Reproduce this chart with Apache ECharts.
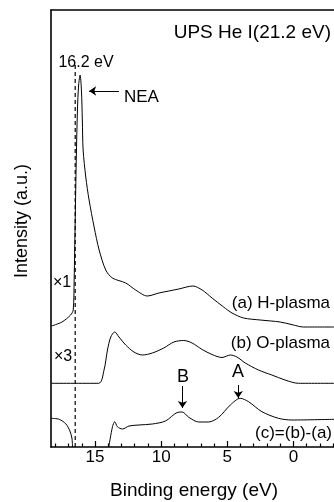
<!DOCTYPE html>
<html>
<head>
<meta charset="utf-8">
<script src="https://cdn.jsdelivr.net/npm/echarts@6/dist/echarts.min.js"></script>
<style>html,body{margin:0;padding:0;background:#fff;}#c{width:334px;height:502px;}</style>
</head>
<body>
<div id="c"></div>
<script>
// Binding energy (eV) and intensity (a.u.)
const energyA = [18.3, 17.5, 16.85, 16.65, 16.58, 16.5, 16.42, 16.33, 16.24, 16.13, 16.03, 15.96, 15.9, 15.7, 15.45, 15.07, 14.69, 14.19, 13.69, 12.68, 11.93, 11.05, 10.17, 9.42, 8.67, 7.6, 6.9, 6.15, 5.28, 4.64, 3.77, 2.51, 1.0, 0, -0.75, -3.1];
const intensityA = [121, 125, 132, 137, 167, 227, 287, 337, 362, 372, 357, 327, 297, 270, 247, 220, 197, 177, 169, 164, 157, 151, 154, 156, 158, 161, 157, 149, 140, 134, 129, 127, 125, 122, 120, 120];

const energyB = [18.3, 14.73, 14.32, 14.06, 13.81, 13.51, 13.19, 12.68, 12.06, 11.42, 10.67, 9.8, 9.04, 8.29, 7.66, 6.9, 6.15, 5.4, 4.77, 4.27, 3.64, 2.64, 1.63, 0.63, -0.38, -3.1];
const intensityB = [63.7, 63.7, 77, 97, 110, 115, 110, 102, 95, 92, 94, 99, 105, 106.5, 104, 97.5, 92.5, 89.5, 92, 90, 84, 77, 72, 67, 63.7, 63.7];

const energyC1 = [18.3, 17.71, 17.2, 16.9, 16.75, 16.7];
const intensityC1 = [28.7, 27.7, 23, 16, 9, 0];

const energyC2 = [13.96, 13.68, 13.51, 13.31, 12.93, 12.43, 11.68, 10.67, 9.67, 8.79, 8.41, 7.91, 7.16, 6.41, 5.65, 4.77, 4.02, 3.39, 2.38, 1.13, 0.12, -3.1];
const intensityC2 = [0, 20.3, 25.3, 20.3, 18, 21, 22, 23, 26, 34.5, 35, 29.7, 25, 25, 29.7, 42, 48.7, 45.3, 35.3, 28.7, 27, 27.7];

const majorTicks = [15, 10, 5, 0];
const minorTicks = [18, 17, 16, 14, 13, 12, 11, 9, 8, 7, 6, 4, 3, 2, 1, -1, -2, -3];
const edgeEnergy = 16.5;      // dashed line position as drawn (labelled 16.2 eV)
const edgeTop = 382;
const peakB = 8.39, peakA = 4.17;

const pairs = (e, v) => e.map((x, k) => [x, v[k]]);
const FONT = 'Liberation Sans, Arial, sans-serif';
const xMin = -3.07, xMax = 18.33;

const chart = echarts.init(document.getElementById('c'));
const baseX = {type: 'value', min: xMin, max: xMax, inverse: true, gridIndex: 0, splitLine: {show: false}};
const lineSer = (data) => ({type: 'line', data, symbol: 'none', smooth: 0.3, lineStyle: {color: '#000', width: 1}, silent: true});

chart.setOption({
  animation: false,
  grid: {left: 51, right: 0, top: 10, bottom: 55, containLabel: false},
  xAxis: [
    Object.assign({}, baseX, {
      position: 'bottom',
      axisLine: {show: true, onZero: false, lineStyle: {color: '#000', width: 1.6}},
      axisTick: {show: true, inside: true, length: 6, customValues: majorTicks, lineStyle: {color: '#000', width: 1.2}},
      axisLabel: {show: true, customValues: majorTicks, fontSize: 17, fontFamily: FONT, color: '#000', margin: 2}
    }),
    Object.assign({}, baseX, {
      position: 'bottom',
      axisLine: {show: false, onZero: false},
      axisTick: {show: true, inside: true, length: 3.5, customValues: minorTicks, lineStyle: {color: '#000', width: 1.2}},
      axisLabel: {show: false}
    }),
    Object.assign({}, baseX, {
      position: 'top',
      axisLine: {show: true, onZero: false, lineStyle: {color: '#000', width: 1.6}},
      axisTick: {show: false},
      axisLabel: {show: false}
    })
  ],
  yAxis: {
    type: 'value', min: 0, max: 437, position: 'left',
    axisLine: {show: true, onZero: false, lineStyle: {color: '#000', width: 1.6}},
    axisTick: {show: false}, axisLabel: {show: false}, splitLine: {show: false}
  },
  series: [
    lineSer(pairs(energyA, intensityA)),
    lineSer(pairs(energyB, intensityB)),
    lineSer(pairs(energyC1, intensityC1)),
    lineSer(pairs(energyC2, intensityC2)),
    {
      type: 'line', data: [[edgeEnergy, 0], [edgeEnergy, edgeTop]], symbol: 'none',
      lineStyle: {color: '#000', width: 1.2, type: [4, 3]}, silent: true,
      markLine: {
        silent: true, symbol: ['none', 'arrow'], symbolSize: 7,
        label: {show: false},
        lineStyle: {color: '#000', width: 1, type: 'solid'},
        data: [
          [{coord: [13.19, 356]}, {coord: [15.45, 356]}],
          [{coord: [peakB, 61]}, {coord: [peakB, 39]}],
          [{coord: [peakA, 62]}, {coord: [peakA, 49]}]
        ]
      }
    }
  ],
  graphic: [
    {type: 'text', x: 331, y: 33, style: {text: 'UPS He I(21.2 eV)', align: 'right', verticalAlign: 'middle', fontSize: 19, fontFamily: FONT, fill: '#000'}},
    {type: 'text', x: 86, y: 63, style: {text: '16.2 eV', align: 'center', verticalAlign: 'middle', fontSize: 16, fontFamily: FONT, fill: '#000'}},
    {type: 'text', x: 124, y: 97, style: {text: 'NEA', align: 'left', verticalAlign: 'middle', fontSize: 17, fontFamily: FONT, fill: '#000'}},
    {type: 'text', x: 53, y: 283, style: {text: '\u00d71', align: 'left', verticalAlign: 'middle', fontSize: 16, fontFamily: FONT, fill: '#000'}},
    {type: 'text', x: 54, y: 357, style: {text: '\u00d73', align: 'left', verticalAlign: 'middle', fontSize: 16, fontFamily: FONT, fill: '#000'}},
    {type: 'text', x: 330, y: 303, style: {text: '(a) H-plasma', align: 'right', verticalAlign: 'middle', fontSize: 17, fontFamily: FONT, fill: '#000'}},
    {type: 'text', x: 330, y: 343, style: {text: '(b) O-plasma', align: 'right', verticalAlign: 'middle', fontSize: 17, fontFamily: FONT, fill: '#000'}},
    {type: 'text', x: 332, y: 433, style: {text: '(c)=(b)-(a)', align: 'right', verticalAlign: 'middle', fontSize: 17, fontFamily: FONT, fill: '#000'}},
    {type: 'text', x: 183, y: 377, style: {text: 'B', align: 'center', verticalAlign: 'middle', fontSize: 18, fontFamily: FONT, fill: '#000'}},
    {type: 'text', x: 238, y: 372, style: {text: 'A', align: 'center', verticalAlign: 'middle', fontSize: 18, fontFamily: FONT, fill: '#000'}},
    {type: 'text', x: 194, y: 491, style: {text: 'Binding energy (eV)', align: 'center', verticalAlign: 'middle', fontSize: 19, fontFamily: FONT, fill: '#000'}},
    {type: 'text', x: 22, y: 221, rotation: Math.PI / 2, style: {text: 'Intensity (a.u.)', align: 'center', verticalAlign: 'middle', fontSize: 18, fontFamily: FONT, fill: '#000'}}
  ]
});
</script>
</body>
</html>
